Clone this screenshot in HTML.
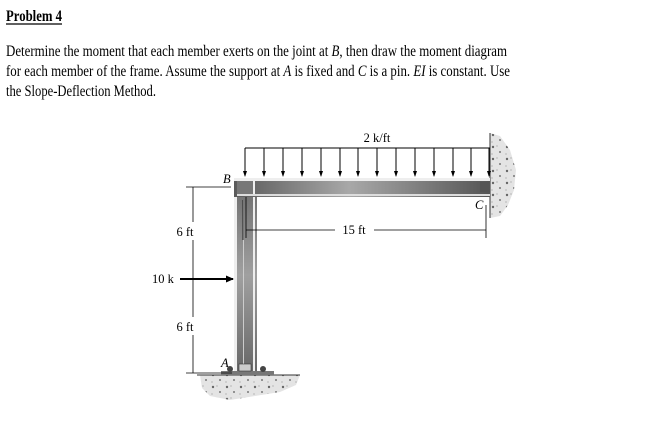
<!DOCTYPE html>
<html><head><style>
html,body{margin:0;padding:0;background:#fff;}
svg{display:block;}
</style></head><body>
<svg width="649" height="435" viewBox="0 0 649 435" xmlns="http://www.w3.org/2000/svg">
<defs>
<linearGradient id="bm" x1="0" y1="0" x2="1" y2="0">
<stop offset="0" stop-color="#5a5a5a"/><stop offset="0.45" stop-color="#a8a8a8"/><stop offset="1" stop-color="#555"/>
</linearGradient>
<linearGradient id="cl" x1="0" y1="0" x2="0" y2="1">
<stop offset="0" stop-color="#6a6a6a"/><stop offset="0.5" stop-color="#a0a0a0"/><stop offset="1" stop-color="#666"/>
</linearGradient>
<marker id="ah" markerWidth="8" markerHeight="8" refX="7" refY="4" orient="auto" markerUnits="userSpaceOnUse">
<path d="M0,0.5 L8,4 L0,7.5 z" fill="#000"/></marker>
<marker id="sh" markerWidth="6" markerHeight="6" refX="5" refY="3" orient="auto" markerUnits="userSpaceOnUse">
<path d="M0,1 L6,3 L0,5 z" fill="#000"/></marker>
<pattern id="sp" width="14" height="12" patternUnits="userSpaceOnUse">
<rect width="14" height="12" fill="#e4e4e4"/>
<circle cx="3" cy="3" r="1.2" fill="#666"/><circle cx="10" cy="8" r="1" fill="#777"/><circle cx="7" cy="2" r="0.6" fill="#999"/><circle cx="2" cy="10" r="0.6" fill="#999"/>
</pattern>
</defs>
<g font-family="Liberation Serif, serif" fill="#000">
<text x="6" y="21" font-size="16" font-weight="bold" textLength="56" lengthAdjust="spacingAndGlyphs">Problem 4</text>
<line x1="6" y1="24" x2="62" y2="24" stroke="#000" stroke-width="1.2"/>
<text x="6" y="56" font-size="16" textLength="501" lengthAdjust="spacingAndGlyphs">Determine the moment that each member exerts on the joint at <tspan font-style="italic">B</tspan>, then draw the moment diagram</text>
<text x="6" y="76" font-size="16" textLength="504" lengthAdjust="spacingAndGlyphs">for each member of the frame. Assume the support at <tspan font-style="italic">A</tspan> is fixed and <tspan font-style="italic">C</tspan> is a pin. <tspan font-style="italic">EI</tspan> is constant. Use</text>
<text x="6" y="96" font-size="16" textLength="150" lengthAdjust="spacingAndGlyphs">the Slope-Deflection Method.</text>
</g>
<path d="M490,133 L500,136 L510,150 L516,170 L514,190 L508,205 L500,216 L490,218 z" fill="url(#sp)"/>
<line x1="490" y1="133" x2="490" y2="218" stroke="#333" stroke-width="1"/>
<path d="M200,375 L300,375 L296,385 L280,392 L255,396 L230,400 L210,396 L202,388 z" fill="url(#sp)"/>
<line x1="197" y1="375" x2="300" y2="375" stroke="#333" stroke-width="1"/>
<!-- column -->
<rect x="234" y="178" width="23" height="195" fill="url(#cl)"/>
<rect x="234" y="178" width="3" height="195" fill="#eee"/>
<rect x="253" y="178" width="2" height="195" fill="#eee"/>
<rect x="243" y="200" width="1" height="165" fill="#ccc"/>
<line x1="243" y1="200" x2="243" y2="240" stroke="#222" stroke-width="1"/>
<!-- beam -->
<rect x="234" y="178" width="256" height="19" fill="url(#bm)"/>
<rect x="234" y="178" width="256" height="3" fill="#eee"/>
<rect x="237" y="194" width="253" height="2" fill="#ddd"/>
<rect x="237" y="181" width="16" height="13" fill="#777"/>
<rect x="253" y="181" width="2" height="13" fill="#eee"/>
<rect x="480" y="182" width="9" height="10" fill="#555"/>
<rect x="221" y="371" width="53" height="4" fill="#777"/>
<rect x="239" y="364" width="12" height="7" fill="#ccc" stroke="#333" stroke-width="0.6"/>
<circle cx="230" cy="369" r="3" fill="#444"/><circle cx="263" cy="369" r="3" fill="#444"/>
<line x1="245" y1="148" x2="490" y2="148" stroke="#000" stroke-width="1"/>
<g stroke="#000" stroke-width="1">
<line x1="245" y1="148" x2="245" y2="176" marker-end="url(#sh)"/>
<line x1="264" y1="148" x2="264" y2="176" marker-end="url(#sh)"/>
<line x1="283" y1="148" x2="283" y2="176" marker-end="url(#sh)"/>
<line x1="302" y1="148" x2="302" y2="176" marker-end="url(#sh)"/>
<line x1="321" y1="148" x2="321" y2="176" marker-end="url(#sh)"/>
<line x1="340" y1="148" x2="340" y2="176" marker-end="url(#sh)"/>
<line x1="358" y1="148" x2="358" y2="176" marker-end="url(#sh)"/>
<line x1="377" y1="148" x2="377" y2="176" marker-end="url(#sh)"/>
<line x1="396" y1="148" x2="396" y2="176" marker-end="url(#sh)"/>
<line x1="415" y1="148" x2="415" y2="176" marker-end="url(#sh)"/>
<line x1="434" y1="148" x2="434" y2="176" marker-end="url(#sh)"/>
<line x1="453" y1="148" x2="453" y2="176" marker-end="url(#sh)"/>
<line x1="471" y1="148" x2="471" y2="176" marker-end="url(#sh)"/>
<line x1="489" y1="148" x2="489" y2="176" marker-end="url(#sh)"/>
</g>
<g stroke="#000" stroke-width="0.8">
<line x1="186" y1="187" x2="231" y2="187"/>
<line x1="186" y1="373" x2="232" y2="373"/>
<line x1="193" y1="187" x2="193" y2="222"/>
<line x1="193" y1="240" x2="193" y2="317"/>
<line x1="193" y1="335" x2="193" y2="373"/>
<line x1="190" y1="279" x2="196" y2="279"/>
<line x1="246" y1="197" x2="246" y2="238"/>
<line x1="486" y1="205" x2="486" y2="238"/>
<line x1="246" y1="230" x2="335" y2="230"/>
<line x1="374" y1="230" x2="486" y2="230"/>
</g>
<line x1="180" y1="279" x2="233" y2="279" stroke="#000" stroke-width="2" marker-end="url(#ah)"/>
<g font-family="Liberation Serif, serif" font-size="12.5" fill="#000">
<text x="185" y="236" text-anchor="middle">6 ft</text>
<text x="185" y="331" text-anchor="middle">6 ft</text>
<text x="152" y="283">10 k</text>
<text x="354" y="234" text-anchor="middle">15 ft</text>
<text x="377" y="142" text-anchor="middle">2 k/ft</text>
<text x="223" y="183" font-style="italic">B</text>
<text x="475" y="209" font-style="italic">C</text>
<text x="221" y="367" font-style="italic">A</text>
</g>
</svg>
</body></html>
